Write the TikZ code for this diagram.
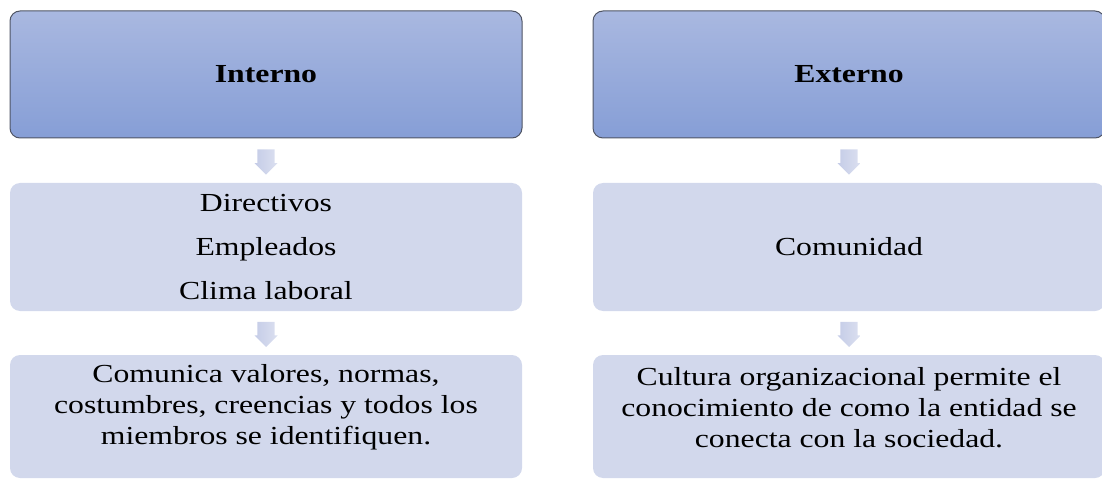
\documentclass[tikz,border=0pt]{standalone}
\usepackage{fontspec}
\setmainfont{Liberation Serif}[FakeStretch=1.22]
\usetikzlibrary{shapes.arrows,calc}
\definecolor{tituloArriba}{HTML}{A9B8E0}
\definecolor{tituloAbajo}{HTML}{869ED6}
\definecolor{bordeTitulo}{HTML}{4F5565}
\definecolor{cajaAzul}{HTML}{D2D8EC}
\definecolor{flechaArriba}{HTML}{C4CCE7}
\definecolor{flechaAbajo}{HTML}{DCE0F0}
\begin{document}
\begin{tikzpicture}[x=0.75pt,y=0.75pt,
  letra/.style={font=\fontsize{19.5pt}{23.25pt}\selectfont},
  titulo/.style={rectangle,rounded corners=7.5pt,draw=bordeTitulo,line width=0.75pt,
    top color=tituloArriba,bottom color=tituloAbajo,
    minimum width=384pt,minimum height=95.25pt,
    font=\fontsize{19.5pt}{23.25pt}\selectfont\bfseries},
  caja/.style={rectangle,rounded corners=7.5pt,fill=cajaAzul,
    minimum width=384pt,align=center,letra},
  texto/.style={align=center,letra},
  flecha/.style={single arrow,rotate=-90,anchor=tail,left color=flechaArriba,right color=flechaAbajo,
    inner sep=6pt,single arrow head extend=2pt,minimum width=17.25pt}]
\useasboundingbox (0,0) rectangle (1102,479);
% Titulos
\node[titulo] (int) at (266,404.5) {Interno};
\node[titulo] (ext) at (849,404.5) {Externo};
% Cajas del medio
\node[caja,minimum height=96pt] (dirI) at (266,232) {Directivos\\[9.75pt]Empleados\\[9.75pt]Clima laboral};
\node[caja,minimum height=96pt] (comE) at (849,232) {Comunidad};
% Cajas de abajo
\node[caja,minimum height=92.25pt] (valI) at (266,62.5) {};
\node[caja,minimum height=92.25pt] (culE) at (849,62.5) {};
\node[texto] (txtI) at ([yshift=7pt]valI.center) {Comunica valores, normas,\\costumbres, creencias y todos los\\miembros se identifiquen.};
\node[texto] (txtE) at ([yshift=7pt]culE.center) {Cultura organizacional permite el\\conocimiento de como la entidad se\\conecta con la sociedad.};
% Flechas
\node[flecha] (f1) at ($(int.south)!0.5!(dirI.north)+(0,11.5)$) {};
\node[flecha] (f2) at ($(dirI.south)!0.5!(valI.north)+(0,11.5)$) {};
\node[flecha] (f3) at ($(ext.south)!0.5!(comE.north)+(0,11.5)$) {};
\node[flecha] (f4) at ($(comE.south)!0.5!(culE.north)+(0,11.5)$) {};
\end{tikzpicture}
\end{document}
